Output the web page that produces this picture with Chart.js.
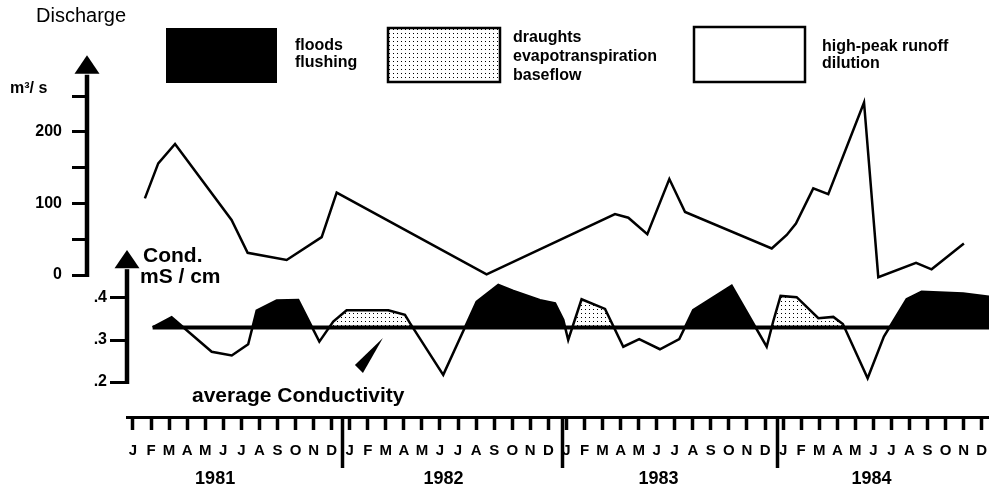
<!DOCTYPE html>
<html>
<head>
<meta charset="utf-8">
<script src="https://cdn.jsdelivr.net/npm/chart.js@4.4.1/dist/chart.umd.min.js"></script>
<style>
  html, body { margin: 0; padding: 0; background: #fff; }
  canvas { display: block; }
</style>
</head>
<body>
<canvas id="c" width="989" height="490"></canvas>
<script>
// ---- time axis (month index 0 = January 1981) ----
const monthLetters = ['J', 'F', 'M', 'A', 'M', 'J', 'J', 'A', 'S', 'O', 'N', 'D'];
const years = ['1981', '1982', '1983', '1984'];
const yearLabelAt = [4.55, 17.2, 29.1, 40.9];
const yearBreaks = [11.6, 23.8, 35.7];

// ---- discharge (m3/s) ----
const dischargeMonth = [0.66, 1.40, 2.33, 5.46, 6.35, 8.51, 10.45, 11.28, 19.58, 26.69, 27.43, 28.48,
                        29.70, 30.57, 35.37, 36.20, 36.71, 37.67, 38.50, 40.48, 41.27, 43.36, 44.22, 46.01];
const dischargeValue = [107, 156, 183, 77, 31, 21, 53, 115, 1, 85, 80, 57,
                        134, 88, 37, 56, 72, 121, 113, 241, -3, 17, 8, 44];
const dischargeTicks = [0, 50, 100, 150, 200, 250];

// ---- conductivity (mS/cm) ----
const condMonth = [1.09, 2.14, 4.36, 5.47, 6.38, 6.85, 7.96, 9.15, 10.32, 11.09, 11.83, 14.14,
                   15.06, 15.34, 17.18, 19.03, 20.23, 21.06, 22.54, 23.37, 23.83, 24.10, 24.84, 26.14,
                   27.15, 28.03, 29.18, 30.25, 31.02, 33.15, 35.09, 35.45, 35.86, 36.75, 37.95, 38.78,
                   39.31, 40.68, 41.58, 42.84, 43.67, 45.97, 47.40];
const condValue = [0.330, 0.354, 0.272, 0.263, 0.290, 0.370, 0.394, 0.395, 0.296, 0.344, 0.371, 0.371,
                   0.360, 0.340, 0.217, 0.391, 0.431, 0.417, 0.395, 0.387, 0.348, 0.300, 0.397, 0.374,
                   0.284, 0.302, 0.278, 0.302, 0.371, 0.429, 0.284, 0.344, 0.405, 0.402, 0.352, 0.355,
                   0.338, 0.209, 0.308, 0.397, 0.415, 0.411, 0.403];
const condAverage = 0.33;
const condTicks = [0.2, 0.3, 0.4];
// sample index ranges that belong to draught / baseflow periods
const draughtSpans = [[8, 14], [21, 24], [30, 37]];

// ---- scale extents ----
const X_MIN = -0.33, X_MAX = 47.4;
const Q_MIN = -198.3, Q_MAX = 342.2, Q_ARROW_BASE = 281, Q_ARROW_TIP = 307;
const C_MIN = 0.1167, C_MAX = 1.038, C_ARROW_BASE = 0.471, C_ARROW_TIP = 0.514;

const FONT = '"Liberation Sans", Arial, Helvetica, sans-serif';

function dotPattern(ctx) {
  const c = document.createElement('canvas');
  c.width = 4; c.height = 4;
  const g = c.getContext('2d');
  g.fillStyle = '#fff'; g.fillRect(0, 0, 4, 4);
  g.fillStyle = '#000'; g.fillRect(1, 1, 1, 1);
  return ctx.createPattern(c, 'repeat');
}

const canvas = document.getElementById('c');
const dots = dotPattern(canvas.getContext('2d'));

const condPoints = condMonth.map((m, i) => ({ x: m, y: condValue[i] }));
const inDraught = i => draughtSpans.some(([a, b]) => i >= a && i <= b);
const draughtPoints = condMonth.map((m, i) => ({ x: m, y: inDraught(i) ? condValue[i] : null }));
const dischargePoints = dischargeMonth.map((m, i) => ({ x: m, y: dischargeValue[i] }));

function noPad(s) { s.paddingLeft = 0; s.paddingRight = 0; s.paddingTop = 0; s.paddingBottom = 0; }

// axis shafts with arrow heads, annotations and the regime key
const decor = {
  id: 'decor',
  afterDraw(chart) {
    const { ctx, scales } = chart;
    const { x, yQ, yC } = scales;
    ctx.save();
    ctx.fillStyle = '#000';
    ctx.strokeStyle = '#000';

    function shaft(ax, yBottom, yBase, yTip) {
      ctx.lineWidth = 4.5;
      ctx.lineCap = 'butt';
      ctx.beginPath();
      ctx.moveTo(ax, yBottom + 2);
      ctx.lineTo(ax, yBase + 1);
      ctx.stroke();
      ctx.beginPath();
      ctx.moveTo(ax, yTip);
      ctx.lineTo(ax - 12.5, yBase);
      ctx.lineTo(ax + 12.5, yBase);
      ctx.closePath();
      ctx.fill();
    }
    shaft(yQ.right, yQ.getPixelForValue(dischargeTicks[0]), yQ.getPixelForValue(Q_ARROW_BASE), yQ.getPixelForValue(Q_ARROW_TIP));
    shaft(yC.right, yC.getPixelForValue(condTicks[0]), yC.getPixelForValue(C_ARROW_BASE), yC.getPixelForValue(C_ARROW_TIP));

    ctx.textBaseline = 'alphabetic';
    ctx.textAlign = 'left';
    ctx.font = '20px ' + FONT;
    ctx.fillText('Discharge', 36, 22);
    ctx.font = 'bold 16px ' + FONT;
    ctx.fillText('m³/ s', 10, 93);
    ctx.font = 'bold 21px ' + FONT;
    ctx.fillText('Cond.', 143, 262);
    ctx.fillText('mS / cm', 140, 283);
    ctx.fillText('average Conductivity', 192, 402);

    // pointer to the average line
    const px = x.getPixelForValue(13.84), py = yC.getPixelForValue(0.305);
    ctx.beginPath();
    ctx.moveTo(px, py);
    ctx.lineTo(px - 28, py + 27);
    ctx.lineTo(px - 20, py + 35);
    ctx.closePath();
    ctx.fill();

    // key
    const ds = chart.data.datasets;
    const floods = ds.find(d => d.label === 'floods');
    const draughts = ds.find(d => d.label === 'draughts');
    ctx.fillStyle = floods.fill.above;
    ctx.fillRect(166, 28, 111, 55);
    ctx.fillStyle = draughts.fill.above;
    ctx.fillRect(388, 28, 112, 54);
    ctx.lineWidth = 2.5;
    ctx.strokeRect(388, 28, 112, 54);
    ctx.fillStyle = floods.fill.below;
    ctx.fillRect(694, 27, 111, 55);
    ctx.strokeRect(694, 27, 111, 55);

    ctx.fillStyle = '#000';
    ctx.font = 'bold 16px ' + FONT;
    ctx.fillText('floods', 295, 50);
    ctx.fillText('flushing', 295, 67);
    ctx.fillText('draughts', 513, 42);
    ctx.fillText('evapotranspiration', 513, 61);
    ctx.fillText('baseflow', 513, 80);
    ctx.fillText('high-peak runoff', 822, 51);
    ctx.fillText('dilution', 822, 68);
    ctx.restore();
  }
};

new Chart(canvas, {
  type: 'line',
  data: {
    datasets: [
      { label: 'Discharge', data: dischargePoints, xAxisID: 'x', yAxisID: 'yQ',
        borderColor: '#000', borderWidth: 2.5, pointRadius: 0, fill: false, order: 0 },
      { label: 'average Conductivity',
        data: [{ x: condMonth[0], y: condAverage }, { x: condMonth[condMonth.length - 1], y: condAverage }],
        xAxisID: 'x', yAxisID: 'yC', borderColor: '#000', borderWidth: 4, pointRadius: 0, fill: false, order: 0 },
      { label: 'Conductivity', data: condPoints, xAxisID: 'x', yAxisID: 'yC',
        borderColor: '#000', borderWidth: 2.5, pointRadius: 0, fill: false, order: 1 },
      { label: 'draughts', data: draughtPoints, xAxisID: 'x', yAxisID: 'yC', spanGaps: false,
        borderColor: 'rgba(0,0,0,0)', borderWidth: 0, pointRadius: 0, order: 2,
        fill: { target: { value: condAverage }, above: dots, below: 'rgba(0,0,0,0)' } },
      { label: 'floods', data: condPoints, xAxisID: 'x', yAxisID: 'yC',
        borderColor: 'rgba(0,0,0,0)', borderWidth: 0, pointRadius: 0, order: 3,
        fill: { target: { value: condAverage }, above: '#000000', below: '#ffffff' } }
    ]
  },
  options: {
    responsive: false,
    animation: false,
    devicePixelRatio: 1,
    layout: { padding: { left: 0, top: 30, right: 0, bottom: 0 } },
    plugins: {
      legend: { display: false },
      tooltip: { enabled: false },
      filler: { drawTime: 'beforeDatasetsDraw' }
    },
    scales: {
      x: {
        type: 'linear', position: 'bottom', min: X_MIN, max: X_MAX,
        afterBuildTicks: s => { s.ticks = Array.from({ length: 48 }, (_, i) => ({ value: i })); },
        afterFit: s => { s.height = 73; noPad(s); },
        ticks: { callback: v => monthLetters[v % 12], autoSkip: false, maxRotation: 0,
                 color: '#000', font: { family: FONT, size: 15, weight: 'bold' }, padding: 12 },
        grid: { drawOnChartArea: false, drawTicks: true, tickLength: 13, tickWidth: 3.5, tickColor: '#000' },
        border: { display: true, color: '#000', width: 3 }
      },
      xYear: {
        type: 'linear', position: { yC: C_MIN }, min: X_MIN, max: X_MAX,
        afterBuildTicks: s => { s.ticks = yearLabelAt.map(v => ({ value: v })); },
        afterFit: s => noPad(s),
        ticks: { callback: (v, i) => years[i], autoSkip: false, maxRotation: 0,
                 color: '#000', font: { family: FONT, size: 18, weight: 'bold' }, padding: 51 },
        grid: { display: false, drawTicks: false },
        border: { display: false }
      },
      xBreak: {
        type: 'linear', position: { yC: C_MIN }, min: X_MIN, max: X_MAX,
        afterBuildTicks: s => { s.ticks = yearBreaks.map(v => ({ value: v })); },
        afterFit: s => noPad(s),
        ticks: { display: false },
        grid: { drawOnChartArea: false, drawTicks: true, tickLength: 51, tickWidth: 3.5, tickColor: '#000' },
        border: { display: false }
      },
      yQ: {
        type: 'linear', position: 'left', weight: 2, min: Q_MIN, max: Q_MAX,
        afterBuildTicks: s => { s.ticks = dischargeTicks.map(v => ({ value: v })); },
        afterFit: s => { s.width = 87; noPad(s); },
        ticks: { callback: v => (v % 100 === 0 ? String(v) : ''), color: '#000',
                 font: { family: FONT, size: 16, weight: 'bold' }, padding: 10 },
        grid: { drawOnChartArea: false, drawTicks: true, tickLength: 15, tickWidth: 3, tickColor: '#000' },
        border: { display: false }
      },
      yC: {
        type: 'linear', position: 'left', weight: 1, min: C_MIN, max: C_MAX,
        afterBuildTicks: s => { s.ticks = condTicks.map(v => ({ value: v })); },
        afterFit: s => { s.width = 40; noPad(s); },
        ticks: { callback: v => String(v).replace(/^0/, ''), color: '#000',
                 font: { family: FONT, size: 16, weight: 'bold' }, padding: 3 },
        grid: { drawOnChartArea: false, drawTicks: true, tickLength: 17, tickWidth: 3, tickColor: '#000' },
        border: { display: false }
      }
    }
  },
  plugins: [decor]
});
</script>
</body>
</html>
